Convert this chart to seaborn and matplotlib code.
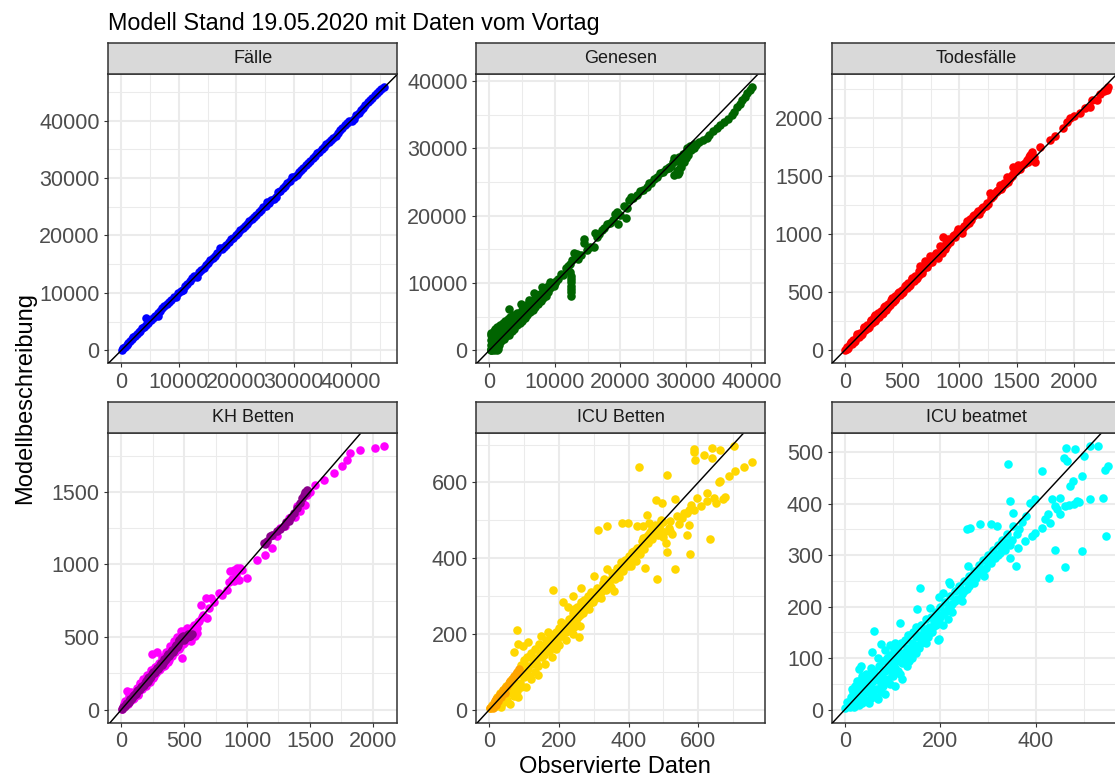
import matplotlib
matplotlib.use("Agg")
import matplotlib.pyplot as plt
from matplotlib.ticker import MultipleLocator, StrMethodFormatter
import pandas as pd
import seaborn as sns

sns.set_theme(style="white")
plt.rcParams["font.family"] = ["Liberation Sans", "DejaVu Sans"]

# ---------------------------------------------------------------------------
# Observed (x) vs. modelled (y) values per indicator
# ---------------------------------------------------------------------------
faelle = [
    (80, 100), (300, 350), (600, 650), (900, 1000), (1200, 1300), (1500, 1600),
    (1800, 1950), (2100, 2250), (2400, 2500), (2700, 2850), (3000, 3150),
    (3300, 3400), (3600, 3800), (3900, 4050), (4300, 5600), (4300, 4450),
    (4700, 4800), (5100, 5250), (5500, 5600), (5900, 6050), (6300, 5950),
    (6300, 6500), (6700, 6800), (7100, 7300), (7500, 7650), (7900, 8000),
    (8300, 8450), (8700, 8800), (9100, 9300), (9500, 9300), (9900, 10000),
    (10300, 10400), (10700, 10500), (11100, 11200), (11500, 11600),
    (11900, 12100), (12300, 12500), (12700, 12900), (13100, 12800),
    (13500, 13600), (13900, 14000), (14300, 14400), (14700, 14900),
    (15100, 15200), (15500, 15700), (15900, 16000), (16300, 16500),
    (16700, 16900), (17100, 17800), (17500, 17600), (17900, 17900),
    (18300, 18400), (18700, 18900), (19100, 19400), (19500, 19600),
    (19900, 20100), (20300, 20500), (20700, 21000), (21100, 21300),
    (21500, 21600), (21900, 22000), (22300, 22500), (22700, 22800),
    (23100, 23200), (23500, 23500), (23900, 24000), (24300, 24500),
    (24700, 24900), (25100, 25200), (25400, 25900), (25700, 25600),
    (26100, 26100), (26500, 26300), (26900, 26700), (27300, 27500),
    (27700, 27800), (28100, 28200), (28500, 28600), (28900, 29100),
    (29300, 29500), (29700, 30200), (30100, 30200), (30500, 30600),
    (30900, 31000), (31300, 31400), (31700, 31800), (32100, 32200),
    (32500, 32600), (32900, 33000), (33300, 33500), (33700, 33800),
    (34100, 34300), (34500, 34600), (34900, 35000), (35300, 35400),
    (35700, 35900), (36100, 36200), (36500, 36600), (36900, 37000),
    (37300, 37300), (37700, 37800), (38100, 38300), (38500, 38800),
    (38900, 39200), (39300, 39500), (39700, 39900), (40100, 40000),
    (40500, 40300), (40900, 40900), (41300, 41400), (41700, 41800),
    (42100, 42200), (42500, 42700), (42900, 43200), (43300, 43600),
    (43700, 44000), (44100, 44400), (44500, 44800), (44900, 45100),
    (45300, 45500), (45770, 45830),
]

genesen = [
    (180, 80), (300, 90), (700, 80), (1100, 100), (1300, 150), (800, 300),
    (200, 150), (500, 450), (800, 700), (1100, 1000), (1400, 1300),
    (1700, 1600), (2000, 1900), (2400, 2300), (2800, 2700), (3200, 3100),
    (3600, 3500), (4000, 3900), (4400, 4300), (4800, 4700), (5200, 5100),
    (5600, 5500), (6000, 5900), (6400, 6300), (6800, 6700), (7200, 7100),
    (7600, 7500), (8000, 7900), (8400, 8300), (8800, 8800), (9200, 9200),
    (9600, 9700), (10000, 10000),
    (1500, 800), (2200, 1600), (3000, 2300), (3800, 3200), (4600, 4000),
    (5400, 4800), (6200, 5700), (7000, 6400), (7800, 7300), (8600, 8100),
    (200, 800), (200, 1500), (200, 2200), (300, 2600), (500, 1400),
    (600, 2000), (700, 2900), (900, 3200), (1000, 2200), (1200, 3500),
    (1300, 1900), (1500, 2800), (1600, 3700), (1800, 2300), (2000, 4100),
    (2200, 3100), (2400, 4300), (2600, 3500), (2800, 4600), (3000, 6200),
    (3100, 5000), (3300, 3900), (3600, 5300), (3900, 4600), (4200, 5600),
    (4500, 5100), (4800, 6900), (5000, 6000), (5300, 5600), (5600, 6700),
    (5900, 6300), (6100, 7500), (6500, 7100), (6800, 8500), (7100, 7700),
    (7500, 8100), (8000, 9400), (8300, 8900), (8800, 9300), (9200, 10100),
    (9500, 9900),
    (400, 1000), (400, 1800), (600, 2600), (800, 1500), (900, 2500),
    (1100, 3000), (1200, 1600), (1400, 2400), (1500, 3200), (1700, 2900),
    (1900, 3500), (2100, 2600), (2300, 3800), (2500, 3000), (2700, 4000),
    (2900, 3300), (3100, 4200), (3400, 4700), (3500, 4000), (3700, 4400),
    (4000, 5000), (4300, 4600), (4600, 5600), (4900, 5300), (5200, 6200),
    (5500, 6000), (5800, 6600), (6200, 6700), (6600, 7400), (6900, 7200),
    (7300, 7600), (7700, 8300), (8100, 8500), (8500, 9000), (8900, 9600),
    (1000, 600), (1800, 1300), (2600, 2100), (3400, 2800), (4200, 3700),
    (5000, 4400), (5800, 5300), (6600, 6000), (7400, 6900), (8200, 7700),
    (9000, 8600), (9800, 9500), (2000, 2600), (3000, 3700), (4000, 4500),
    (5000, 5500), (6000, 6500), (7000, 7400), (8000, 8300), (1000, 1500),
    (1500, 2000), (2500, 3200), (3500, 4300), (4500, 5000), (5500, 6000),
    (6500, 6800), (7500, 7800),
    (10100, 10300), (10500, 10600), (10900, 11400), (11300, 11200),
    (11700, 12200), (12000, 12500), (12400, 8100), (12400, 8600),
    (12400, 9100), (12400, 9600), (12400, 10100), (12400, 10600),
    (12400, 11100), (12300, 11600), (12300, 12800), (12600, 13400),
    (12900, 14400), (13300, 14300), (13600, 13600), (14000, 14200),
    (14400, 16600), (14400, 15900), (14900, 14900), (15300, 15400),
    (15900, 15400), (16200, 17400), (16500, 16800), (16800, 17300),
    (17200, 17800), (17500, 18200), (18000, 18800), (18400, 18900),
    (18800, 19300), (19200, 20200), (19500, 20600), (19700, 18700),
    (20000, 20100), (20500, 21400), (20900, 19700), (21000, 21100),
    (21300, 22300), (21600, 22700), (22000, 22600), (22500, 23000),
    (23000, 23600), (23500, 23800), (24000, 24200), (24300, 24900),
    (24700, 24800),
    (25200, 25400), (25600, 25800), (26000, 26300), (26500, 26500),
    (27000, 26900), (27400, 27100), (27800, 27400), (28000, 27900),
    (28200, 28500), (28600, 28300), (28800, 26200), (28600, 26700),
    (29000, 27000), (29300, 27600), (29500, 28300), (29900, 28800),
    (30100, 29600), (30400, 29600), (30800, 29800), (31200, 30100),
    (31600, 30500), (31200, 30600), (30200, 30000), (32000, 31000),
    (32600, 31300), (33200, 31600), (33600, 32000), (34100, 32600),
    (34700, 33000), (35200, 33500), (35900, 33900), (36400, 34400),
    (37000, 35000), (37300, 35400), (37800, 36100), (38200, 36600),
    (38600, 37200), (39000, 37700), (39400, 38200), (39800, 38700),
    (40129, 39090),
    (28200, 26000), (28900, 26500), (29300, 27200), (29700, 27900),
    (30000, 28500), (30300, 29000), (27500, 27300), (28300, 28100),
    (29000, 28700), (29600, 29200), (30600, 30400), (31000, 30200),
]

todesfaelle = [
    (0, 5), (15, 30), (30, 20), (45, 55), (60, 50), (75, 90), (90, 80),
    (105, 120), (120, 110), (135, 150), (150, 140), (165, 190), (180, 170),
    (195, 215), (210, 200), (225, 250), (240, 235), (255, 290), (262, 306),
    (270, 265), (285, 300), (300, 290), (315, 335), (330, 320), (345, 370),
    (360, 350), (375, 400), (390, 385), (405, 430), (420, 415), (435, 470),
    (450, 445), (465, 490), (480, 475), (495, 520), (510, 505), (525, 550),
    (540, 535), (555, 575), (570, 565), (585, 610), (600, 595), (615, 640),
    (630, 625), (645, 680), (655, 721), (670, 665), (685, 700), (699, 764),
    (715, 720), (742, 807), (730, 745), (760, 760), (780, 800), (800, 835),
    (810, 790), (830, 893), (845, 840), (859, 973), (870, 870), (888, 907),
    (900, 960), (920, 930), (940, 980), (960, 970), (980, 1020),
    (1004, 1036), (1020, 1010), (1040, 1070), (1063, 1107), (1080, 1090),
    (1100, 1120), (1120, 1150), (1150, 1179), (1170, 1170), (1190, 1210),
    (1210, 1230), (1237, 1265), (1250, 1260), (1266, 1350), (1280, 1310),
    (1300, 1340), (1320, 1360), (1340, 1380), (1354, 1422), (1370, 1400),
    (1390, 1440), (1412, 1493), (1420, 1450), (1440, 1480), (1455, 1510),
    (1470, 1579), (1480, 1530), (1500, 1550), (1514, 1594), (1530, 1560),
    (1550, 1590), (1570, 1610), (1586, 1636), (1600, 1620), (1630, 1708),
    (1640, 1640), (1659, 1622), (1650, 1660), (1703, 1751), (1790, 1808),
    (1830, 1840), (1907, 1908), (1940, 1960), (1965, 1994), (2000, 2010),
    (2052, 2037), (2100, 2080), (2140, 2094), (2160, 2150), (2198, 2151),
    (2230, 2200), (2260, 2230), (2285, 2237), (2293, 2262),
    (20, 10), (50, 70), (80, 70), (110, 140), (140, 130), (170, 200),
    (200, 190), (230, 260), (260, 250), (290, 320), (320, 310), (350, 380),
    (380, 370), (410, 450), (440, 430), (470, 500), (500, 490), (530, 560),
    (560, 550), (590, 625), (620, 610), (650, 650), (690, 720), (720, 760),
    (750, 780), (790, 820), (820, 840), (850, 880), (880, 920), (910, 950),
    (950, 990), (990, 1040), (1030, 1050), (1060, 1080), (1090, 1130),
    (1130, 1160), (1160, 1200), (1200, 1220), (1230, 1240), (1290, 1330),
    (1330, 1370), (1360, 1390), (1400, 1430), (1430, 1470), (1460, 1500),
    (1490, 1540), (1520, 1580), (1560, 1600), (1610, 1660), (1620, 1680),
]

kh_betten = [
    (5, 3), (20, 40), (40, 30), (48, 126), (60, 90), (70, 60), (90, 110),
    (100, 80), (120, 150), (130, 110), (150, 170), (160, 140), (180, 200),
    (190, 170), (210, 230), (220, 200), (246, 385), (286, 400), (240, 260),
    (260, 230), (280, 300), (300, 270), (320, 340), (340, 300), (360, 380),
    (370, 330), (390, 420), (400, 370), (420, 450), (430, 400), (450, 480),
    (460, 420), (480, 510), (484, 356), (500, 460), (520, 540), (530, 490),
    (550, 560), (560, 500), (580, 580), (590, 530), (603, 528), (610, 600),
    (630, 723), (650, 650), (670, 770), (683, 631), (700, 700), (709, 768),
    (740, 740), (775, 803), (800, 790), (841, 826), (860, 880), (868, 952),
    (880, 900), (894, 963), (894, 883), (910, 930), (920, 975), (934, 895),
    (947, 975), (960, 960), (1000, 906), (1080, 1032), (1146, 1067),
    (1199, 1113), (1210, 1200), (1238, 1193), (1260, 1250), (1304, 1262),
    (1330, 1320), (1384, 1330), (1400, 1400), (1423, 1365), (1440, 1430),
    (1463, 1411), (1480, 1480), (1500, 1500), (1543, 1548), (1609, 1583),
    (1688, 1629), (1754, 1675), (1794, 1720), (1820, 1766), (1900, 1789),
    (2019, 1801), (2091, 1813),
    (10, 20), (30, 60), (55, 40), (80, 120), (95, 70), (115, 130),
    (135, 100), (145, 180), (165, 150), (175, 210), (195, 160), (205, 240),
    (225, 190), (235, 270), (250, 220), (265, 290), (275, 250), (295, 320),
    (310, 280), (325, 360), (345, 310), (355, 400), (375, 340), (385, 440),
    (405, 380), (415, 470), (435, 410), (445, 500), (465, 430), (475, 540),
    (490, 450), (505, 510), (515, 470), (535, 520), (545, 550), (555, 470),
    (570, 560), (585, 510), (600, 560), (620, 610), (640, 640), (520, 560),
    (500, 540),
]

kh_betten_2 = [
    (5, 5), (20, 15), (35, 35), (50, 45), (65, 65), (80, 75), (95, 95),
    (110, 105), (125, 125), (140, 135), (155, 155), (170, 160), (185, 185),
    (200, 190), (215, 215), (230, 220), (245, 245), (260, 250), (275, 275),
    (290, 280), (305, 305), (320, 310), (335, 335), (350, 340), (365, 370),
    (380, 370), (395, 400), (410, 400), (425, 430), (440, 430), (455, 470),
    (470, 470), (480, 500), (490, 510), (500, 480), (520, 500), (540, 510),
    (560, 520), (1132, 1147), (1160, 1160), (1185, 1193), (1240, 1230),
    (1291, 1262), (1330, 1300), (1370, 1353), (1400, 1390), (1437, 1457),
    (1450, 1480), (1476, 1514),
    (10, 15), (28, 22), (42, 48), (58, 52), (72, 72), (88, 82), (102, 102),
    (118, 110), (132, 132), (148, 140), (162, 165), (178, 170), (192, 195),
    (208, 200), (222, 225), (238, 230), (252, 258), (268, 260), (282, 288),
    (298, 290), (312, 318), (328, 320), (342, 348), (358, 350), (372, 380),
    (388, 380), (402, 410), (418, 410), (432, 445), (448, 445), (462, 480),
    (475, 490), (495, 490), (510, 500), (530, 520), (548, 505),
    (1145, 1140), (1200, 1200), (1260, 1245), (1310, 1290), (1350, 1330),
    (1420, 1420), (1460, 1500), (1470, 1490),
]

icu_betten = [
    (3, 4), (8, 12), (12, 6), (15, 22), (20, 10), (22, 32), (28, 18),
    (30, 45), (33, 7), (35, 28), (40, 52), (42, 20), (45, 38), (48, 62),
    (50, 25), (55, 45), (58, 72), (60, 15), (62, 52), (66, 82), (70, 35),
    (72, 152), (72, 62), (75, 92), (78, 211), (80, 48), (81, 173), (81, 33),
    (84, 100), (88, 70), (91, 60), (92, 118), (96, 169), (98, 85),
    (100, 130), (104, 100), (108, 140), (110, 178), (110, 108), (115, 88),
    (120, 150), (125, 120), (130, 160), (135, 135), (139, 90), (142, 172),
    (148, 195), (150, 140), (155, 165), (158, 143), (162, 185), (167, 204),
    (170, 155), (175, 190), (180, 170), (182, 316), (186, 200), (191, 204),
    (195, 180), (200, 215), (205, 230), (208, 195), (210, 283), (215, 225),
    (220, 205), (225, 270), (228, 240), (232, 215), (239, 300), (240, 255),
    (244, 265), (244, 217), (248, 230), (252, 270), (255, 245), (258, 191),
    (262, 283), (263, 257), (263, 322), (268, 255), (272, 290), (278, 265),
    (282, 300), (287, 265), (292, 310), (298, 285), (301, 353), (305, 300),
    (310, 320), (313, 473), (315, 318), (320, 295), (325, 335), (330, 344),
    (334, 315), (339, 370), (339, 484), (342, 340), (348, 325), (352, 360),
    (358, 362), (358, 314), (362, 345), (368, 375), (372, 350), (378, 390),
    (382, 493), (385, 365), (390, 395), (397, 493), (397, 379), (402, 405),
    (406, 380), (410, 415), (416, 405), (420, 392), (425, 484), (425, 428),
    (431, 641), (432, 410), (438, 445), (440, 484), (445, 425), (447, 373),
    (450, 455), (454, 515), (456, 440), (459, 493), (462, 470), (466, 450),
    (468, 480), (473, 467), (476, 488), (478, 554), (481, 344), (484, 462),
    (490, 478), (495, 546), (498, 455), (503, 470), (508, 440), (511, 417),
    (511, 620), (515, 480), (518, 471), (520, 497), (526, 465), (533, 557),
    (534, 370), (540, 511), (545, 490), (552, 505), (558, 520), (567, 460),
    (568, 519), (573, 487), (573, 528), (576, 410), (580, 540), (588, 528),
    (588, 688), (588, 681), (592, 660), (597, 559), (607, 539), (616, 673),
    (624, 572), (626, 550), (635, 451), (640, 690), (640, 664), (645, 559),
    (652, 545), (660, 600), (664, 686), (664, 603), (670, 555), (678, 561),
    (688, 616), (702, 695), (707, 629), (731, 642), (755, 655), (480, 486),
    (470, 475), (492, 500), (455, 462), (442, 452), (415, 420), (405, 398),
    (388, 382), (375, 370), (360, 352), (345, 335), (330, 322), (320, 310),
    (305, 295), (290, 282), (275, 270), (260, 250), (250, 240), (235, 228),
    (225, 215), (212, 205), (198, 192), (185, 178), (172, 165), (160, 152),
    (60, 60), (70, 75), (90, 95), (100, 105), (110, 115), (125, 130),
    (135, 125), (145, 150), (165, 170), (175, 160), (195, 205), (205, 200),
    (215, 210), (235, 240), (245, 235), (255, 255), (265, 270), (280, 275),
    (295, 300), (310, 305), (325, 325), (340, 330), (350, 345), (365, 355),
    (380, 375), (395, 390), (410, 400), (425, 415), (435, 430), (450, 445),
    (465, 460), (475, 465), (490, 490), (500, 495), (105, 60), (120, 80),
    (130, 100), (140, 115), (160, 120), (180, 140), (190, 160), (200, 170),
    (220, 185), (240, 200), (260, 220),
]

icu_betten_2 = [
    (3, 4), (8, 10), (12, 16), (16, 22), (20, 27), (25, 33), (30, 40),
    (35, 45), (40, 52), (45, 57), (50, 63), (55, 70), (60, 76), (65, 82),
    (70, 88), (75, 94), (80, 100), (86, 108), (10, 4), (18, 12), (26, 22),
    (34, 32), (44, 45),
]

icu_beatmet = [
    (1, 3), (5, 15), (10, 5), (12, 25), (15, 10), (18, 35), (20, 15),
    (22, 45), (25, 20), (28, 40), (30, 8), (30, 55), (35, 30), (38, 50),
    (40, 20), (42, 60), (45, 35), (48, 55), (50, 12), (52, 45), (55, 65),
    (58, 30), (60, 55), (62, 75), (65, 40), (68, 60), (70, 20), (72, 85),
    (75, 50), (78, 70), (80, 95), (82, 55), (85, 75), (88, 100), (90, 60),
    (92, 85), (95, 105), (98, 70), (100, 90), (102, 115), (105, 80),
    (108, 100), (110, 120), (112, 75), (115, 105), (118, 130), (120, 90),
    (122, 110), (125, 135), (128, 100), (130, 120), (133, 145), (136, 110),
    (140, 130), (142, 150), (145, 115), (148, 140), (150, 160), (153, 125),
    (156, 145), (160, 165), (163, 135), (166, 155), (170, 175), (173, 145),
    (176, 160), (180, 180), (183, 150), (186, 170), (190, 190), (195, 136),
    (198, 175), (200, 200), (205, 185), (210, 208), (215, 195), (220, 220),
    (225, 205), (230, 230), (235, 215), (240, 240), (245, 225), (250, 250),
    (255, 235), (260, 260), (265, 245), (270, 270), (275, 255), (280, 280),
    (285, 265), (290, 290), (295, 275), (300, 300), (305, 285), (310, 310),
    (315, 295), (320, 320), (325, 305), (330, 330), (335, 310), (340, 340),
    (345, 320),
    (61, 153), (33, 84), (30, 78), (57, 111), (75, 128), (115, 168),
    (151, 195), (157, 236), (179, 198), (186, 176), (197, 137), (197, 218),
    (206, 226), (219, 247), (221, 244), (242, 237), (245, 211), (258, 279),
    (270, 253), (292, 260), (256, 350), (263, 353), (284, 361), (305, 360),
    (318, 356), (336, 318), (346, 295), (359, 279), (362, 314), (341, 477),
    (345, 405), (353, 382), (353, 356), (370, 365), (378, 327), (380, 375),
    (388, 401), (392, 337), (399, 343), (399, 408), (413, 353), (413, 463),
    (420, 370), (425, 380), (427, 256), (430, 363), (434, 408), (439, 310),
    (440, 395), (445, 390), (451, 379), (451, 411), (458, 488), (460, 395),
    (461, 276), (463, 508), (465, 482), (470, 398), (472, 434), (477, 443),
    (480, 400), (482, 506), (486, 405), (490, 403), (496, 308), (496, 453),
    (500, 492), (514, 408), (514, 511), (531, 511), (541, 410), (545, 466),
    (546, 337), (550, 474),
    (20, 5), (25, 30), (35, 12), (40, 40), (45, 18), (50, 50), (55, 22),
    (60, 40), (65, 25), (70, 60), (75, 35), (80, 45), (85, 30), (90, 80),
    (95, 50), (100, 65), (105, 45), (110, 95), (115, 70), (120, 60),
    (125, 100), (130, 85), (135, 95), (140, 100), (145, 125), (150, 110),
    (155, 120), (160, 130), (165, 145), (170, 130), (175, 140), (180, 150),
    (185, 160), (190, 165), (195, 170), (200, 180), (205, 165), (210, 190),
    (215, 175), (220, 200), (225, 190), (230, 210), (240, 215), (250, 230),
    (260, 240), (270, 245), (280, 265), (290, 270), (300, 285), (310, 295),
    (320, 300), (330, 310), (340, 325), (350, 330), (360, 340), (365, 350),
    (15, 40), (25, 55), (35, 65), (45, 70), (55, 80), (70, 100), (85, 115),
    (95, 125), (105, 130),
]

panels = [
    ("Fälle", faelle, None, "#0000FF", None, 10000, 10000, 0, 0),
    ("Genesen", genesen, None, "#006400", None, 10000, 10000, 1, 0),
    ("Todesfälle", todesfaelle, None, "#FF0000", None, 500, 500, 2, 0),
    ("KH Betten", kh_betten, kh_betten_2, "#FF00FF", "#8B008B", 500, 500, 0, 1),
    ("ICU Betten", icu_betten, icu_betten_2, "#FFD700", "#FFA500", 200, 200, 1, 1),
    ("ICU beatmet", icu_beatmet, None, "#00FFFF", None, 200, 100, 2, 1),
]

# ---------------------------------------------------------------------------
# Figure layout (pixel based)
# ---------------------------------------------------------------------------
W, H, DPI = 1115, 778, 100
fig = plt.figure(figsize=(W / DPI, H / DPI), dpi=DPI)

col_left = [108.3, 476.3, 831.7]
panel_top = [74.0, 433.3]
pw, ph = 289.0, 289.4
strip_h = 31.3
border = "#333333"
point_size = 38

for name, pts, pts2, col, col2, xstep, ystep, c, r in panels:
    left = col_left[c]
    top = panel_top[r]
    ax = fig.add_axes([left / W, 1 - (top + ph) / H, pw / W, ph / H])
    df = pd.DataFrame(pts, columns=["observiert", "modell"])
    sns.scatterplot(data=df, x="observiert", y="modell", color=col,
                    s=point_size, linewidth=0, ax=ax, zorder=2)
    if pts2 is not None:
        df2 = pd.DataFrame(pts2, columns=["observiert", "modell"])
        sns.scatterplot(data=df2, x="observiert", y="modell", color=col2,
                        s=point_size, linewidth=0, ax=ax, zorder=2)
    ax.margins(0.05)
    ax.autoscale_view()
    ax.axline((0, 0), slope=1, color="black", lw=1.05, zorder=3)

    ax.set_xlabel("")
    ax.set_ylabel("")
    ax.xaxis.set_major_locator(MultipleLocator(xstep))
    ax.xaxis.set_minor_locator(MultipleLocator(xstep / 2))
    ax.yaxis.set_major_locator(MultipleLocator(ystep))
    ax.yaxis.set_minor_locator(MultipleLocator(ystep / 2))
    ax.xaxis.set_major_formatter(StrMethodFormatter("{x:.0f}"))
    ax.yaxis.set_major_formatter(StrMethodFormatter("{x:.0f}"))

    ax.set_facecolor("white")
    ax.set_axisbelow(True)
    ax.grid(which="major", color="#EBEBEB", lw=1.5)
    ax.grid(which="minor", color="#EBEBEB", lw=0.75)
    ax.tick_params(which="major", length=2.7, width=0.8, color=border,
                   labelsize=15.5, labelcolor="#4D4D4D", pad=3.5,
                   bottom=True, left=True)
    ax.tick_params(which="minor", length=0)
    for sp in ax.spines.values():
        sp.set_color(border)
        sp.set_linewidth(1.1)
        sp.set_visible(True)

    sax = fig.add_axes([left / W, 1 - top / H, pw / W, strip_h / H])
    sax.set_facecolor("#D9D9D9")
    sax.set_xticks([])
    sax.set_yticks([])
    for sp in sax.spines.values():
        sp.set_color(border)
        sp.set_linewidth(1.1)
        sp.set_visible(True)
    sax.text(0.5, 0.5, name, ha="center", va="center", fontsize=13,
             color="#1A1A1A", transform=sax.transAxes)

fig.text(108.3 / W, 1 - 30 / H, "Modell Stand 19.05.2020 mit Daten vom Vortag",
         ha="left", va="baseline", fontsize=16.8, color="black")
fig.text(614.5 / W, 1 - 773 / H, "Observierte Daten",
         ha="center", va="baseline", fontsize=17, color="black")
fig.text(25 / W, 1 - 398.3 / H, "Modellbeschreibung", rotation=90,
         ha="center", va="center", fontsize=17, color="black")

fig.savefig("out.png", dpi=DPI)
